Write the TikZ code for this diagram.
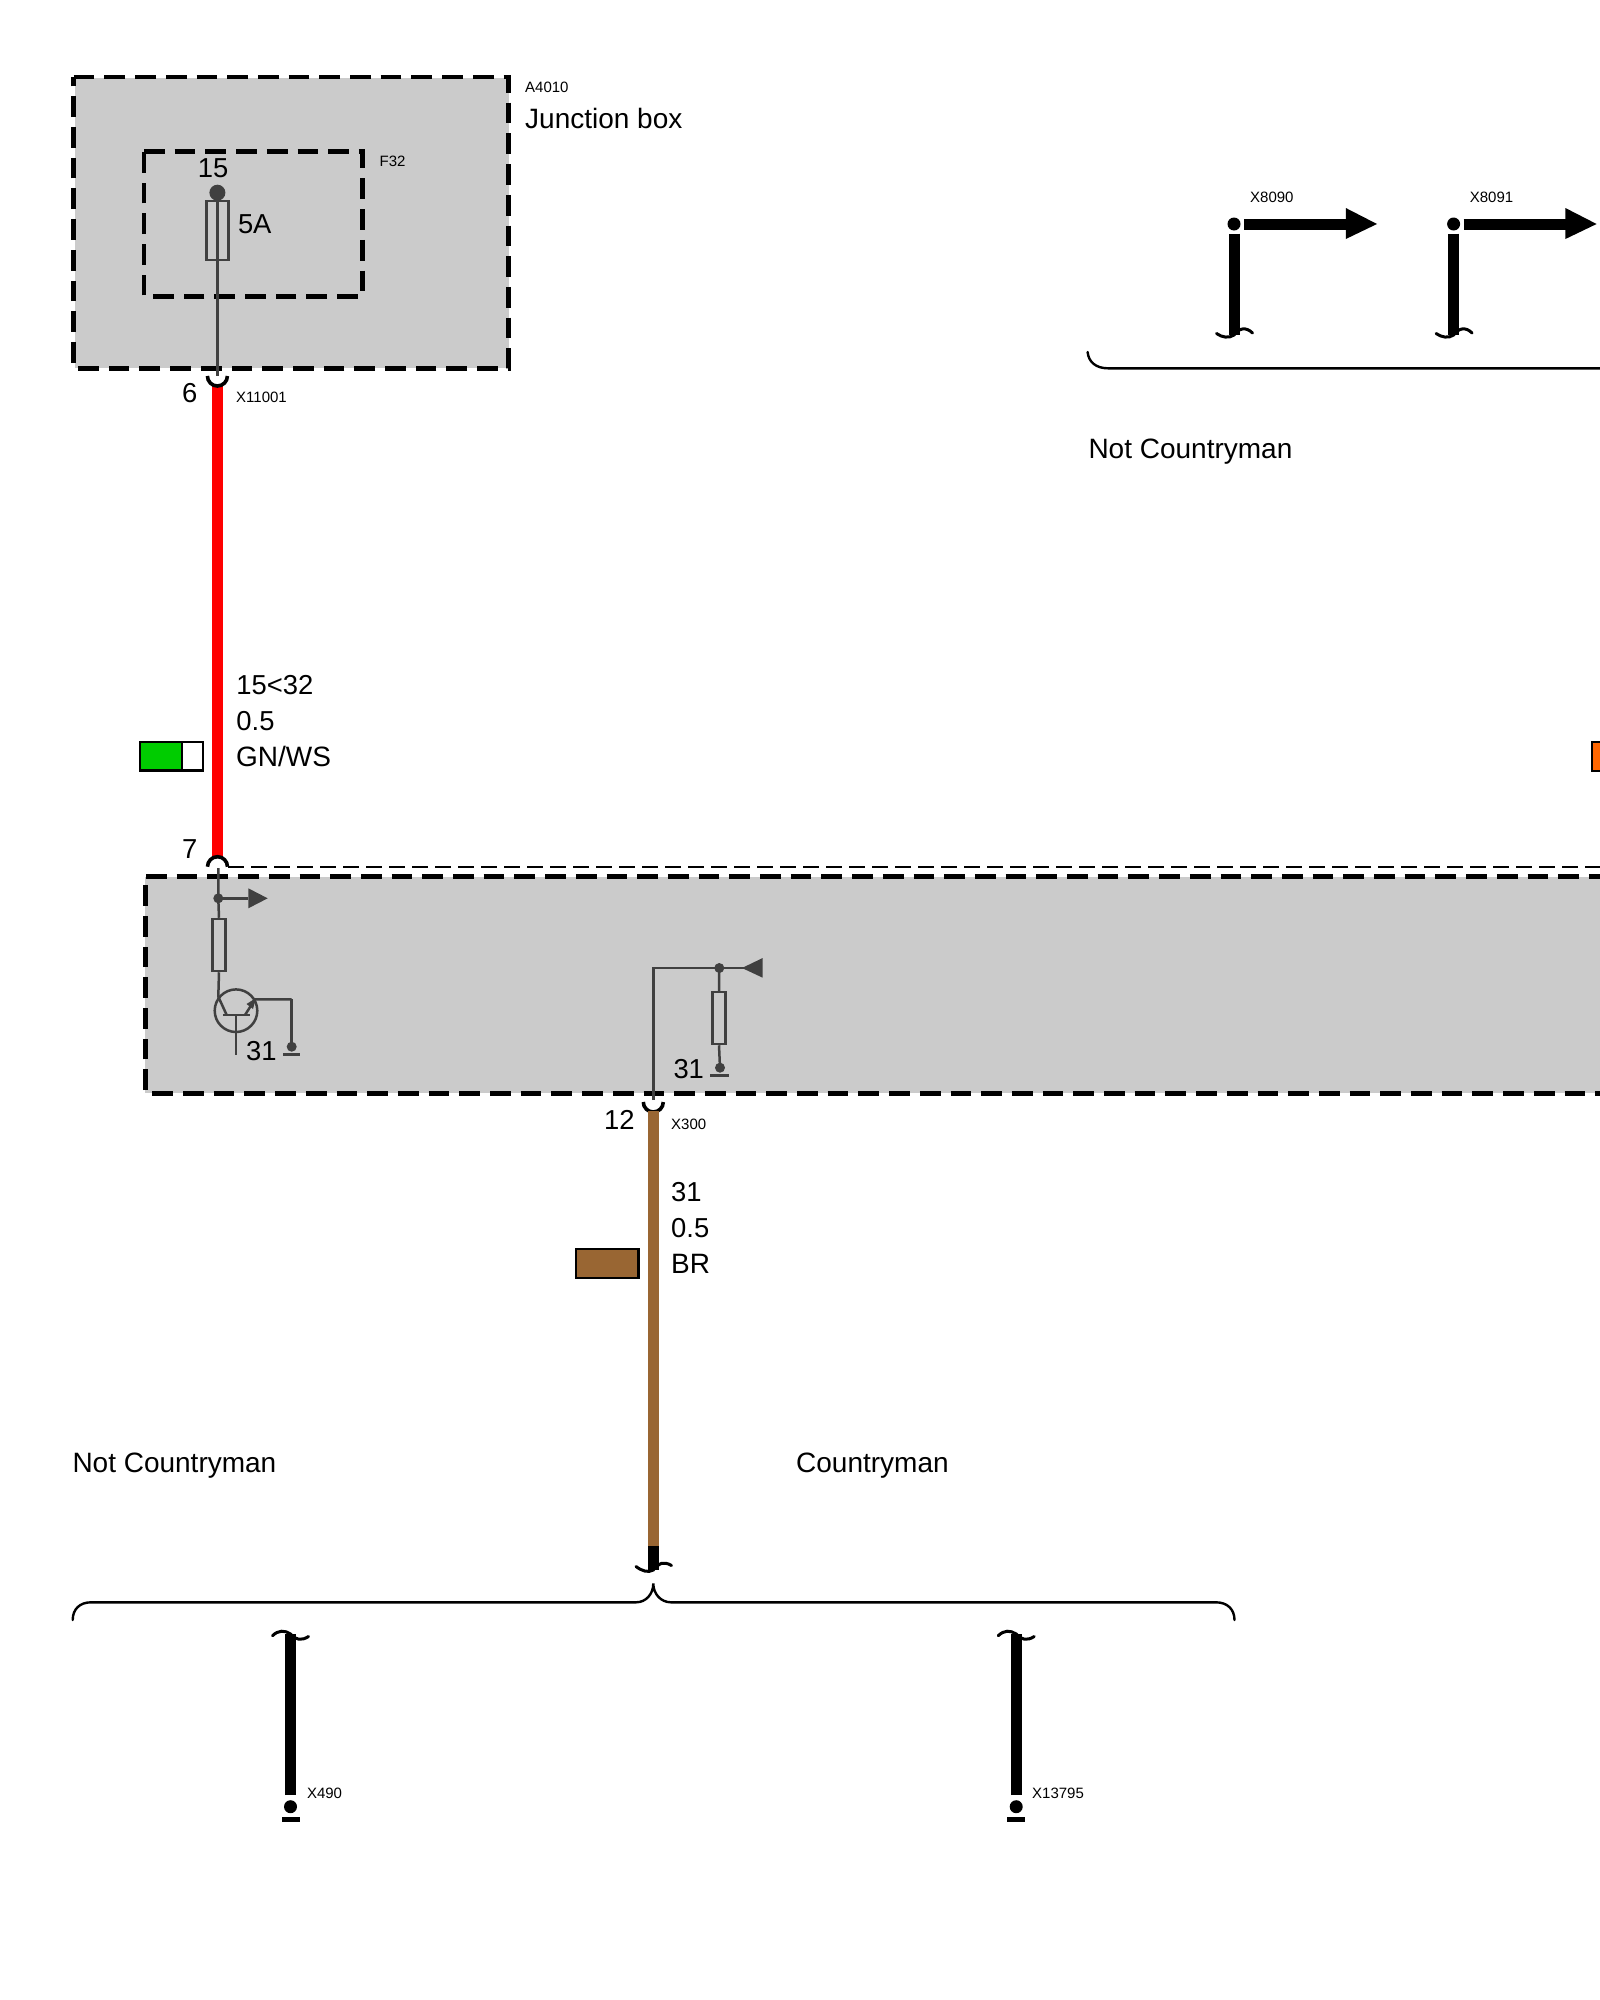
\documentclass[tikz,border=0pt]{standalone}
\usepackage{fontspec}
\setmainfont{Liberation Sans}
\definecolor{boxgrey}{HTML}{CBCBCB}
\definecolor{ink}{HTML}{404040}
\definecolor{brownw}{HTML}{996633}
\definecolor{greenw}{HTML}{00CC00}
\definecolor{orangew}{HTML}{FF6600}
\tikzset{
  big/.style={font=\fontsize{28}{30}\selectfont,anchor=base west,inner sep=0pt,text=black},
  num/.style={font=\fontsize{27.4}{30}\selectfont,anchor=base west,inner sep=0pt,text=black},
  small/.style={font=\fontsize{15}{17}\selectfont,anchor=base west,inner sep=0pt,text=black},
  dashbox/.style={line width=4.6pt,dash pattern=on 20.7pt off 10pt,black},
  thindash/.style={line width=2.4pt,dash pattern=on 15.5pt off 7.5pt,black},
  inner/.style={line width=2.5pt,ink},
  bwire/.style={line width=11pt,black},
  contact/.style={line width=3.6pt,black},
  brace/.style={line width=2.4pt,black,line cap=round},
  squig/.style={line width=3pt,black,line cap=round},
  idot/.style={circle,fill=ink,draw=none,minimum size=10pt,inner sep=0pt},
  bdot/.style={circle,fill=black,draw=none,minimum size=13pt,inner sep=0pt},
  resist/.style={rectangle,draw=ink,line width=2.5pt,fill=boxgrey,minimum width=13pt,minimum height=52pt,inner sep=0pt},
  swatch/.style={draw=black,line width=2.4pt}
}
\begin{document}
\begin{tikzpicture}[x=1pt,y=-1pt]
\useasboundingbox (0,0) rectangle (1600,2000);
\fill[white] (0,0) rectangle (1600,2000);

% --- Junction box
\fill[boxgrey] (74.5,77.5) rectangle (508.5,368.3);
\draw[dashbox] (73.7,77) -- (508.5,77) -- (508.5,368.3) -- (73.7,368.3) -- cycle;
\draw[dashbox] (144,151.3) -- (362.5,151.3) -- (362.5,296.5) -- (144,296.5) -- cycle;
\node[small] (a4010) at (525,92.5) {A4010};
\node[big] (jbox) at (525,128.5) {Junction box};
\node[small] (f32) at (379.5,166) {F32};
\node[num] (n15) at (197.7,177.5) {15};
\node[num] (n5a) at (237.8,233.5) {5A};
\node[circle,fill=ink,minimum size=16pt,inner sep=0pt] (fdot) at (217.4,192.7) {};
\node[rectangle,draw=ink,line width=2.5pt,minimum width=22pt,minimum height=59pt,inner sep=0pt] (fuse) at (217.4,230.3) {};
\coordinate (c6) at (217.4,376);
\draw[inner] (fdot.center) -- (c6);

% --- Connector 6 / red wire
\coordinate (r1) at (217.4,385);
\coordinate (r2) at (217.4,858);
\draw[line width=10.5pt,red] (r1) -- (r2);
\draw[contact] (207.4,376) arc[start angle=180,end angle=360,radius=10pt];
\node[num] (n6) at (182,402.7) {6};
\node[small] (x11001) at (236,402.5) {X11001};

% --- Wire data 1
\node[num] (t1a) at (236.2,694.2) {15<32};
\node[num] (t1b) at (236.2,730) {0.5};
\node[big] (t1c) at (236,766) {GN/WS};
\draw[swatch,fill=greenw] (140,742) rectangle (181.7,770.3);
\draw[swatch,fill=white] (181.7,742) rectangle (202.7,770.3);

% --- Orange swatch at right edge
\draw[swatch,fill=orangew] (1591.7,741.7) rectangle (1610,771);

% --- Connector 7 / lower box
\draw[contact] (207.5,866.7) arc[start angle=180,end angle=0,radius=10pt];
\draw[thindash] (228,866.7) -- (1610,866.7);
\node[num] (n7) at (182,858.7) {7};
\fill[boxgrey] (145.3,876.7) rectangle (1610,1093.3);
\draw[dashbox] (146,876.7) -- (1610,876.7);
\draw[dashbox] (145.3,1090) -- (145.3,876.7);
\draw[dashbox] (152.3,1093.3) -- (1610,1093.3);

% --- Left inner circuit
\coordinate (c7) at (218.3,868);
\node[idot] (d1) at (218.3,898.3) {};
\node[resist] (r7) at (219,945) {};
\coordinate (q1) at (218.3,996.7);
\coordinate (q2) at (226.7,1015);
\draw[inner] (c7) -- (d1.center) -- (r7.north);
\draw[inner] (r7.south) -- (q1) -- (q2);
\fill[ink] (248.3,888.3) -- (267.7,898.3) -- (248.3,908.3) -- cycle;
\coordinate (arr1) at (248.3,898.3);
\draw[inner] (d1.center) -- (arr1);
\node[circle,draw=ink,line width=2.5pt,minimum size=42.6pt,inner sep=0pt] (tr) at (236,1010.7) {};
\coordinate (bl) at (223,1015);
\coordinate (br) at (250,1015);
\coordinate (bm) at (236,1015);
\coordinate (bd) at (236,1055);
\coordinate (em) at (245,1015);
\coordinate (ee) at (255,999.3);
\coordinate (ec) at (291.7,999.3);
\draw[inner] (bl) -- (br);
\draw[inner] (bm) -- (bd);
\draw[inner] (em) -- (ee) -- (ec);
\fill[ink] (256,998) -- (246.5,1004) -- (253,1009) -- cycle;
\node[idot] (g1) at (291.7,1046.7) {};
\draw[inner] (ec) -- (g1.center);
\coordinate (g1a) at (283.3,1054.6);
\coordinate (g1b) at (300,1054.6);
\draw[inner] (g1a) -- (g1b);
\node[num] (n31a) at (246,1060) {31};

% --- Middle inner circuit
\coordinate (c12) at (653.3,1100);
\coordinate (corner) at (653.3,968);
\node[idot] (d2) at (719.3,968) {};
\coordinate (arr2) at (744,968);
\draw[inner] (c12) -- (corner) -- (d2.center) -- (arr2);
\fill[ink] (742,968) -- (762.7,958) -- (762.7,977.7) -- cycle;
\node[resist] (r12) at (719,1018) {};
\node[idot] (g2) at (720,1067.7) {};
\draw[inner] (d2.center) -- (r12.north);
\draw[inner] (r12.south) -- (g2.center);
\coordinate (g2a) at (710,1075.3);
\coordinate (g2b) at (729.3,1075.3);
\draw[inner] (g2a) -- (g2b);
\node[num] (n31b) at (673.3,1078) {31};

% --- Connector 12 / brown wire
\draw[contact] (643.3,1102) arc[start angle=180,end angle=360,radius=10pt];
\coordinate (b1) at (653.3,1111);
\coordinate (b2) at (653.3,1546);
\coordinate (b3) at (653.3,1570);
\draw[line width=10.5pt,brownw] (b1) -- (b2);
\draw[bwire] (b2) -- (b3);
\draw[squig] (636,1566.5) .. controls (642,1571) and (648,1573) .. (653.3,1570) .. controls (658,1563) and (664,1561) .. (671.5,1565.5);
\node[num] (n12) at (604,1129.2) {12};
\node[small] (x300) at (671,1129.3) {X300};
\node[num] (t2a) at (671,1201) {31};
\node[num] (t2b) at (671,1237) {0.5};
\node[big] (t2c) at (671,1273) {BR};
\draw[swatch,fill=brownw] (575.7,1249) rectangle (638.3,1278);

% --- Lower brace and labels
\node[big] (ncl) at (72.3,1472.8) {Not Countryman};
\node[big] (cl) at (796,1472.8) {Countryman};
\draw[brace] (72.7,1620) .. controls (72.7,1609) and (80,1602.3) .. (91,1602.3) -- (636,1602.3) .. controls (646,1602.3) and (653.3,1594) .. (653.3,1583.5) .. controls (653.3,1594) and (661,1602.3) .. (671,1602.3) -- (1216,1602.3) .. controls (1227,1602.3) and (1234.5,1609) .. (1234.5,1620);

% --- Lower terminals
\foreach \nm/\xx/\lab/\tx in {a/290.5/X490/306.8,b/1016.2/X13795/1032}{
  \node[bdot] (t\nm) at (\xx,1806.7) {};
  \coordinate (w\nm) at (\xx,1795);
  \coordinate (u\nm) at (\xx,1634);
  \draw[bwire] (w\nm) -- (u\nm);
  \fill[black] (\xx-9,1817) rectangle (\xx+9,1821.7);
  \draw[squig] (\xx-18,1635.7) .. controls (\xx-12,1630) and (\xx-6,1630) .. (\xx,1634) .. controls (\xx+5,1640) and (\xx+11,1641) .. (\xx+18,1636.5);
  \node[small] (l\nm) at (\tx,1798.3) {\lab};
}

% --- Upper right terminals
\foreach \nm/\xx/\lab in {c/1234/X8090,d/1453.6/X8091}{
  \node[bdot] (t\nm) at (\xx,224) {};
  \coordinate (v\nm) at (\xx,233.5);
  \coordinate (s\nm) at (\xx,335);
  \coordinate (h\nm) at (\xx+10,224);
  \coordinate (e\nm) at (\xx+112,224);
  \draw[bwire] (v\nm) -- (s\nm);
  \draw[bwire] (h\nm) -- (e\nm);
  \fill[black] (\xx+111.8,208) -- (\xx+143,224) -- (\xx+111.8,239) -- cycle;
  \draw[squig] (\xx-17.5,333.5) .. controls (\xx-12,337.5) and (\xx-5,338.5) .. (\xx,335) .. controls (\xx+5,328) and (\xx+12,326.5) .. (\xx+18.5,333);
  \node[small] (l\nm) at (\xx+16,202.2) {\lab};
}

% --- Upper brace
\draw[brace] (1087.6,352) .. controls (1088.5,362) and (1096,368.3) .. (1108,368.3) -- (1610,368.3);
\node[big] (ncu) at (1088.3,458.5) {Not Countryman};
\end{tikzpicture}
\end{document}
